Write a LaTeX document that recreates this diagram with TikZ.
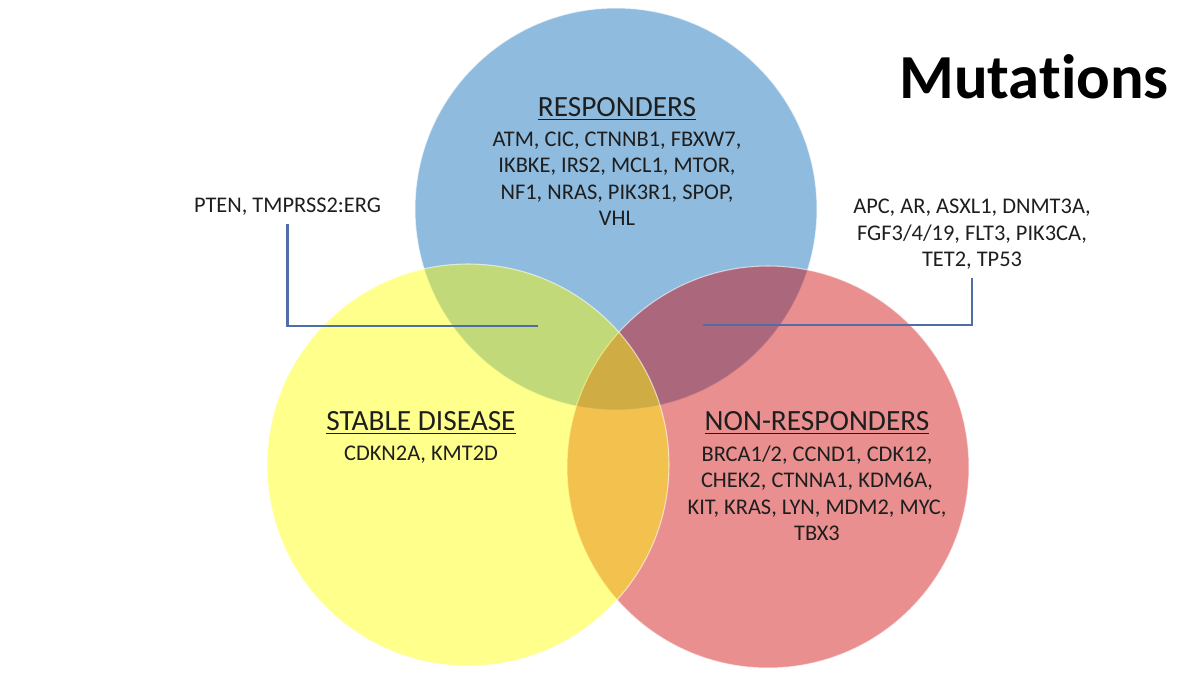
\documentclass[tikz,border=0pt]{standalone}
\usepackage{fontspec}
\setmainfont{Carlito}[Ligatures={NoCommon,NoContextual}]
\definecolor{respblue}{RGB}{143,187,222}
\definecolor{nonred}{RGB}{207,0,0}
\definecolor{stableyellow}{RGB}{255,255,0}
\definecolor{linkblue}{RGB}{79,110,168}
\definecolor{txt}{RGB}{30,30,30}
\newcommand{\ulhead}[1]{\setbox0=\hbox{#1}\rlap{\rule[-2.6pt]{\wd0}{1.1pt}}\box0}
\tikzset{
  group/.style={font=\fontsize{22}{26}\selectfont, text=txt, inner sep=0pt},
  genes/.style={font=\fontsize{16.8}{19.9}\selectfont, text=txt, align=center, inner sep=0pt},
  link/.style={linkblue, line width=1.9pt, shorten <=6pt},
  venn/.style={draw=white, draw opacity=0.6, line width=0.8pt}
}
\begin{document}
\begin{tikzpicture}[x=0.75pt, y=-0.75pt]
  \useasboundingbox[fill=white] (0,0) rectangle (1200,675);
  % circles: blue first, red over it, yellow on top
  \path[venn, fill=respblue] (616,209) circle [radius=150.75pt];
  \path[venn, fill=nonred, fill opacity=0.44] (768,467) circle [radius=150.75pt];
  \path[venn, fill=stableyellow, fill opacity=0.45] (468,465) circle [radius=150.75pt];

  \node[font=\fontsize{47}{50}\selectfont\bfseries, anchor=base, inner sep=0pt] (title) at (1034,98) {Mutat\kern0pt ions};

  \node[group, anchor=base] (resp) at (617,116.5) {\ulhead{RESPONDERS}};
  \node[genes, anchor=north] (resp genes) at (617,131.3) {ATM, CIC, CTNNB1, FBXW7,\\IKBKE, IRS2, MCL1, MTOR,\\NF1, NRAS, PIK3R1, SPOP,\\VHL};

  \node[group, anchor=base] (stable) at (421,430.5) {\ulhead{STABLE DISEASE}};
  \node[genes, anchor=north] (stable genes) at (421,445.3) {CDKN2A, KMT2D};

  \node[group, anchor=base] (nonresp) at (817,430.5) {\ulhead{NON-RESPONDERS}};
  \node[genes, anchor=north] (nonresp genes) at (817,445.3) {BRCA1/2, CCND1, CDK12,\\CHEK2, CTNNA1, KDM6A,\\KIT, KRAS, LYN, MDM2, MYC,\\TBX3};

  % shared mutations
  \node[genes, anchor=north] (pten) at (287.5,197.8) {PTEN, TMPRSS2:ERG};
  \node[genes, anchor=north] (apc) at (972,198.8) {APC, AR, ASXL1, DNMT3A,\\FGF3/4/19, FLT3, PIK3CA,\\TET2, TP53};
  \coordinate (pten end) at (538,326);
  \coordinate (apc end) at (703,325);
  \draw[link] (pten.south) |- (pten end);
  \draw[link] (apc.south) |- (apc end);
\end{tikzpicture}
\end{document}
